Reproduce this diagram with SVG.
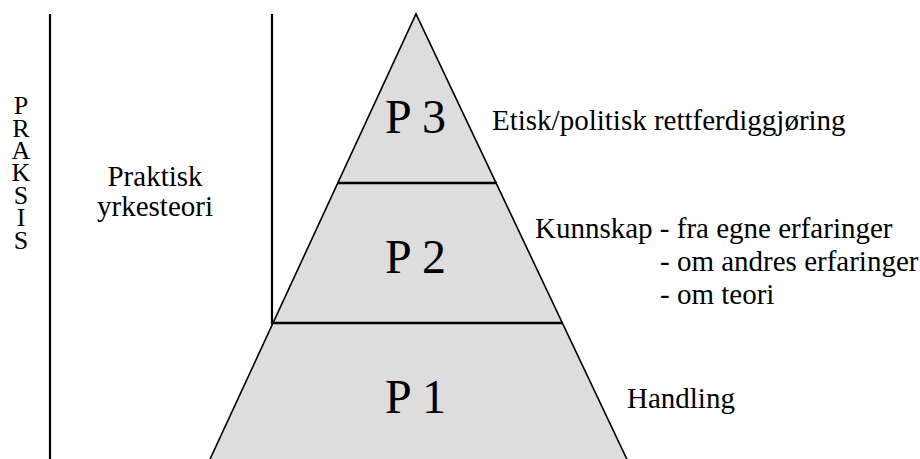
<svg xmlns="http://www.w3.org/2000/svg" width="920" height="459" viewBox="0 0 920 459">
<style>
.tier { fill: #dddddd; stroke: none; }
.edge { stroke: #000; stroke-width: 1.6; fill: none; }
.div { stroke: #000; stroke-width: 2.6; }
.vline { stroke: #000; stroke-width: 2.2; fill: none; }
.t { font-family: "Liberation Serif", "Times New Roman", Times, "DejaVu Serif", serif; fill: #000; }
</style>
<rect width="920" height="459" fill="#fff"/>
<g id="p3">
  <polygon class="tier" points="416,14 497,183 338,183"/>
  <text class="t" font-size="48" x="385" y="133">P 3</text>
</g>
<g id="p2">
  <polygon class="tier" points="338,183 497,183 562,323 272,323"/>
  <text class="t" font-size="48" x="385" y="273">P 2</text>
</g>
<g id="p1">
  <polygon class="tier" points="272,323 562,323 632,470 205,470"/>
  <text class="t" font-size="48" x="385" y="413">P 1</text>
</g>
<g id="connectors">
  <polyline class="edge" points="205,470 416,14 632,470"/>
  <line class="div" x1="338" y1="183" x2="497" y2="183"/>
  <line class="div" x1="271" y1="323" x2="562" y2="323"/>
  <line class="vline" x1="272" y1="14" x2="272" y2="323"/>
  <line class="vline" x1="50" y1="14" x2="50" y2="459"/>
</g>
<g id="praksis">
  <text class="t" font-size="26" text-anchor="middle" x="21" y="114">P</text>
  <text class="t" font-size="26" text-anchor="middle" x="21" y="137">R</text>
  <text class="t" font-size="26" text-anchor="middle" x="21" y="159">A</text>
  <text class="t" font-size="26" text-anchor="middle" x="21" y="181">K</text>
  <text class="t" font-size="26" text-anchor="middle" x="21" y="204">S</text>
  <text class="t" font-size="26" text-anchor="middle" x="21" y="226">I</text>
  <text class="t" font-size="26" text-anchor="middle" x="21" y="249">S</text>
</g>
<g id="yrkesteori">
  <text class="t" font-size="29" text-anchor="middle" x="155" y="186">Praktisk</text>
  <text class="t" font-size="29" text-anchor="middle" x="155" y="216">yrkesteori</text>
</g>
<g id="label-p3">
  <text class="t" font-size="29" x="492" y="130">Etisk/politisk rettferdiggjøring</text>
</g>
<g id="label-p2">
  <text class="t" font-size="29" x="535" y="238">Kunnskap - fra egne erfaringer</text>
  <text class="t" font-size="29" x="660" y="271">- om andres erfaringer</text>
  <text class="t" font-size="29" x="660" y="304">- om teori</text>
</g>
<g id="label-p1">
  <text class="t" font-size="29" x="627" y="408">Handling</text>
</g>
</svg>
